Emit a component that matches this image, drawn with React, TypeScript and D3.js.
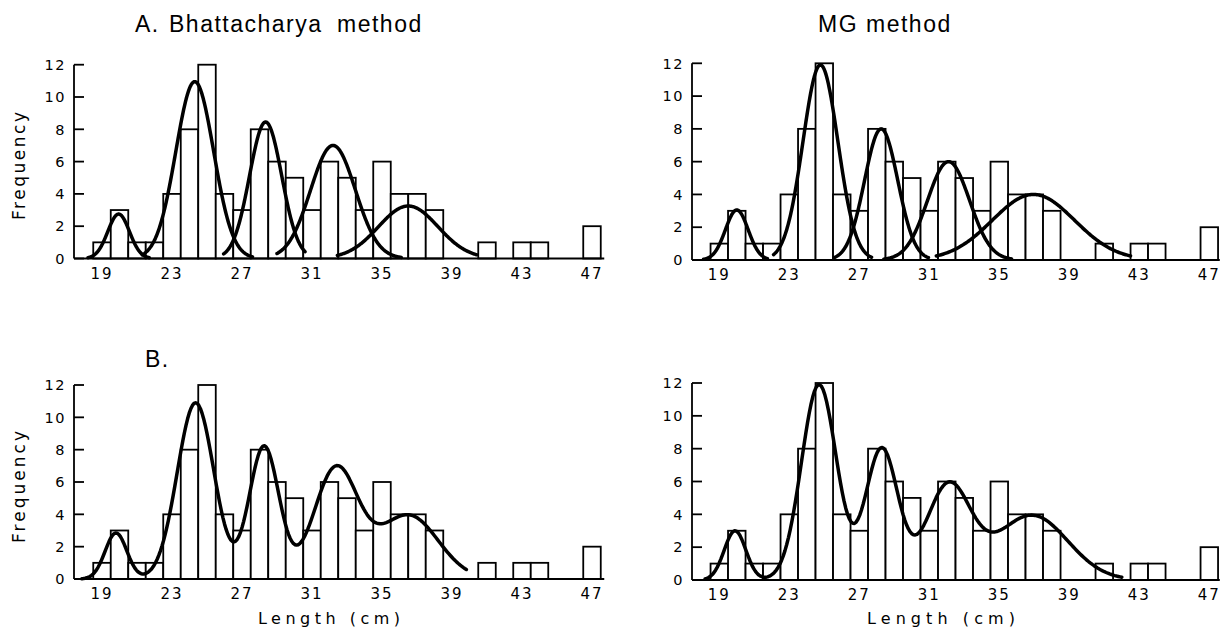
import React from "react";
import * as d3 from "d3";

// ---- histogram data (length class in cm, frequency) ----
const lengths = [19, 20, 21, 22, 23, 24, 25, 26, 27, 28, 29, 30, 31, 32, 33, 34, 35, 36, 37, 38, 41, 43, 44, 47];
const counts = [1, 3, 1, 1, 4, 8, 12, 4, 3, 8, 6, 5, 3, 6, 5, 3, 6, 4, 4, 3, 1, 1, 1, 2];

const xTicks = [19, 23, 27, 31, 35, 39, 43, 47];
const yTicks = [0, 2, 4, 6, 8, 10, 12];

// ---- A. fitted normal components (Bhattacharya method) ----
const bhatMean = [19.95, 24.3, 28.35, 32.2, 36.5];
const bhatSd = [0.62, 1.08, 0.92, 1.28, 1.7];
const bhatAmp = [2.75, 10.95, 8.45, 7.0, 3.25];
const bhatFrom = [18.2, 21.3, 25.95, 29.0, 32.45];
const bhatTo = [21.7, 27.6, 30.6, 36.1, 40.4];

// ---- A. fitted normal components (MG method) ----
const mgMean = [20.0, 24.78, 28.25, 32.1, 36.95];
const mgSd = [0.65, 1.0, 0.95, 1.2, 2.35];
const mgAmp = [3.05, 11.9, 8.0, 6.0, 4.0];
const mgFrom = [18.1, 22.1, 25.6, 28.4, 31.4];
const mgTo = [21.75, 27.7, 30.95, 35.7, 42.5];

// ---- B. combined curves (sum of components) ----
const bhatSumMean = [19.8, 24.35, 28.26, 32.37, 36.5];
const bhatSumSd = [0.62, 1.05, 0.85, 1.25, 1.7];
const bhatSumAmp = [2.85, 10.9, 8.2, 6.8, 3.95];
const bhatSumRange = [17.85, 39.82];

const mgSumMean = [19.9, 24.7, 28.28, 32.09, 36.85];
const mgSumSd = [0.62, 1.0, 0.92, 1.25, 2.05];
const mgSumAmp = [3.0, 11.9, 8.0, 5.7, 3.95];
const mgSumRange = [18.19, 42.0];

type Comp = { mean: number; sd: number; amp: number; from: number; to: number };

const mk = (m: number[], s: number[], a: number[], f?: number[], t?: number[]): Comp[] =>
  m.map((mean, i) => ({ mean, sd: s[i], amp: a[i], from: f ? f[i] : 0, to: t ? t[i] : 0 }));

const bhat = mk(bhatMean, bhatSd, bhatAmp, bhatFrom, bhatTo);
const mg = mk(mgMean, mgSd, mgAmp, mgFrom, mgTo);
const bhatSum = mk(bhatSumMean, bhatSumSd, bhatSumAmp);
const mgSum = mk(mgSumMean, mgSumSd, mgSumAmp);

const gauss = (c: Comp, x: number) => c.amp * Math.exp(-((x - c.mean) ** 2) / (2 * c.sd * c.sd));

const FONT = "'DejaVu Sans', 'Liberation Sans', sans-serif";
const TITLE_FONT = "'Liberation Sans', Arial, sans-serif";

type PanelProps = {
  xLeft: number;
  xDom: [number, number];
  k: number;
  yBase: number;
  yTop: number;
  comps: Comp[];
  mode: "components" | "sum";
  sumRange?: number[];
};

function Panel({ xLeft, xDom, k, yBase, yTop, comps, mode, sumRange }: PanelProps) {
  const x = d3.scaleLinear().domain(xDom).range([xLeft, xLeft + (xDom[1] - xDom[0]) * k]);
  const y = d3.scaleLinear().domain([0, 12]).range([yBase, yTop]);
  const line = d3
    .line<[number, number]>()
    .x((d) => x(d[0]))
    .y((d) => y(d[1]));

  const sample = (a: number, b: number, f: (v: number) => number) =>
    d3.range(0, 241).map((i) => {
      const v = a + ((b - a) * i) / 240;
      return [v, f(v)] as [number, number];
    });

  const paths: string[] =
    mode === "components"
      ? comps.map((c) => line(sample(c.from, c.to, (v) => gauss(c, v))) || "")
      : [line(sample(sumRange![0], sumRange![1], (v) => d3.sum(comps, (c) => gauss(c, v)))) || ""];

  return (
    <g>
      {lengths.map((l, i) => (
        <rect
          key={l}
          x={x(l - 0.5)}
          y={y(counts[i])}
          width={x(l + 0.5) - x(l - 0.5)}
          height={yBase - y(counts[i])}
          fill="#fff"
          stroke="#000"
          strokeWidth={1.8}
        />
      ))}
      <line x1={xLeft} x2={x(xDom[1])} y1={yBase} y2={yBase} stroke="#000" strokeWidth={1.8} />
      <line x1={xLeft} x2={xLeft} y1={yBase} y2={y(12)} stroke="#000" strokeWidth={1.8} />
      {yTicks.map((t) => (
        <g key={t}>
          <line x1={xLeft} x2={xLeft + 10} y1={y(t)} y2={y(t)} stroke="#000" strokeWidth={1.8} />
          <text
            x={xLeft - 8}
            y={y(t)}
            dy="0.36em"
            textAnchor="end"
            fontFamily={FONT}
            fontSize={14.5}
            letterSpacing={1.5}
          >
            {t}
          </text>
        </g>
      ))}
      {xTicks.map((t) => (
        <text
          key={t}
          x={x(t)}
          y={yBase + 20}
          textAnchor="middle"
          fontFamily={FONT}
          fontSize={15}
          letterSpacing={2}
        >
          {t}
        </text>
      ))}
      {paths.map((p, i) => (
        <path key={i} d={p} fill="none" stroke="#000" strokeWidth={3.5} strokeLinejoin="round" strokeLinecap="round" />
      ))}
    </g>
  );
}

export default function App() {
  return (
    <svg width={1222} height={630} style={{ position: "absolute", left: 0, top: 0, background: "#fff" }}>
      <rect x={0} y={0} width={1222} height={630} fill="#fff" />
      <Panel xLeft={74} xDom={[17.4, 47.7]} k={17.5} yBase={258.5} yTop={64.7} comps={bhat} mode="components" />
      <Panel xLeft={692} xDom={[17.44, 47.6]} k={17.5} yBase={260} yTop={63.3} comps={mg} mode="components" />
      <Panel xLeft={74} xDom={[17.4, 47.7]} k={17.5} yBase={579} yTop={385} comps={bhatSum} mode="sum" sumRange={bhatSumRange} />
      <Panel xLeft={692} xDom={[17.44, 47.6]} k={17.5} yBase={580} yTop={383} comps={mgSum} mode="sum" sumRange={mgSumRange} />

      <g fontFamily={TITLE_FONT} fontSize={23} letterSpacing={1.5}>
        <text x={135} y={32}>A.</text>
        <text x={169} y={32}>Bhattacharya</text>
        <text x={337} y={32}>method</text>
        <text x={818} y={32}>MG</text>
        <text x={866} y={32}>method</text>
        <text x={145} y={367}>B.</text>
      </g>

      <text x={258} y={624} fontFamily={FONT} fontSize={16} textLength={142} lengthAdjust="spacing" style={{ whiteSpace: "pre" }}>
        {"Length (cm)"}
      </text>
      <text x={867} y={624} fontFamily={FONT} fontSize={16} textLength={148} lengthAdjust="spacing" style={{ whiteSpace: "pre" }}>
        {"Length (cm)"}
      </text>

      <text transform="translate(25,166) rotate(-90)" textAnchor="middle" fontFamily={FONT} fontSize={17} textLength={108} lengthAdjust="spacing">
        Frequency
      </text>
      <text transform="translate(25,487) rotate(-90)" textAnchor="middle" fontFamily={FONT} fontSize={17} textLength={112} lengthAdjust="spacing">
        Frequency
      </text>
    </svg>
  );
}
